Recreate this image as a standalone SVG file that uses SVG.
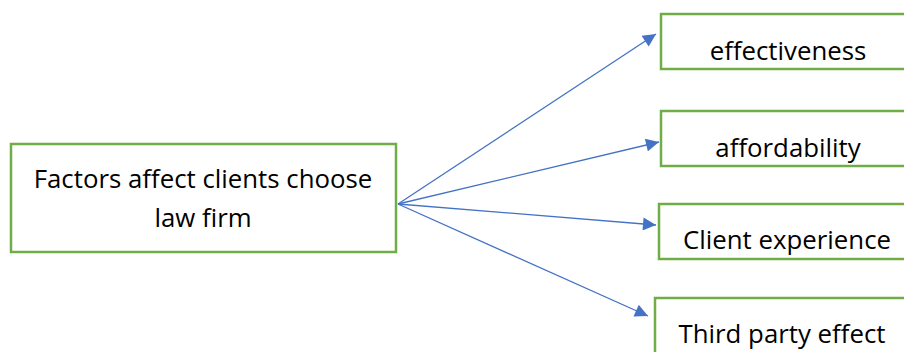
<svg xmlns="http://www.w3.org/2000/svg" width="904" height="352" viewBox="0 0 904 352">
<style>
.box{fill:#fff;stroke:#70AD47;stroke-width:2.5}
.t{font-family:"Open Sans","Liberation Sans",sans-serif;font-size:25.8px;fill:#000;text-anchor:middle}
.c{stroke:#4472C4;stroke-width:1.3;fill:none;marker-end:url(#ah)}
</style>
<defs>
<marker id="ah" viewBox="0 0 10 10" refX="10" refY="5" markerWidth="15" markerHeight="13" markerUnits="userSpaceOnUse" orient="auto">
<path d="M0,0 L10,5 L0,10 z" fill="#4472C4"/>
</marker>
</defs>
<rect width="904" height="352" fill="#fff"/>
<g id="connectors">
<line class="c" x1="398" y1="204" x2="656" y2="34"/>
<line class="c" x1="398" y1="204" x2="659" y2="142"/>
<line class="c" x1="398" y1="204" x2="656" y2="225"/>
<line class="c" x1="398" y1="204" x2="648" y2="316"/>
</g>
<g id="main">
<rect class="box" x="11" y="144" width="385" height="108"/>
<text class="t" x="203" y="188">Factors affect clients choose</text>
<text class="t" x="203" y="227">law firm</text>
</g>
<g id="effectiveness">
<rect class="box" x="661" y="14" width="254" height="55"/>
<text class="t" x="788" y="60">effectiveness</text>
</g>
<g id="affordability">
<rect class="box" x="661" y="111" width="254" height="55"/>
<text class="t" x="788" y="157">affordability</text>
</g>
<g id="client-experience">
<rect class="box" x="659" y="204" width="256" height="55"/>
<text class="t" x="787" y="249">Client experience</text>
</g>
<g id="third-party">
<rect class="box" x="655" y="298" width="260" height="70"/>
<text class="t" x="782" y="343">Third party effect</text>
</g>
</svg>
